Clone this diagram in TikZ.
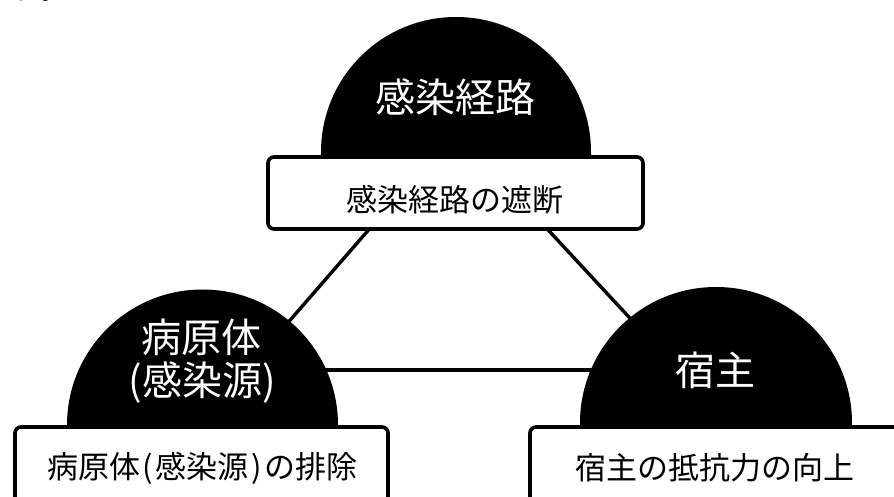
\documentclass[tikz,border=0pt]{standalone}
\usepackage{fontspec}
\newfontfamily\jp{Noto Sans CJK JP}
\newcommand{\hwp}[1]{\makebox[0.5em]{#1}}
\begin{document}
\begin{tikzpicture}[x=1pt,y=1pt,
  dome/.style={fill=black},
  labelbox/.style={draw=black, line width=3.6pt, rounded corners=6pt, fill=white},
  link/.style={draw=black, line width=3.4pt},
  domettl/.style={text=white, font=\jp\fontsize{40}{46}\selectfont, inner sep=0pt, align=center},
  boxtxt/.style={text=black, font=\jp\fontsize{31}{36}\selectfont, inner sep=0pt}]
\useasboundingbox (0,0) rectangle (894,497);
% anchor points
\coordinate (topC) at (456,345);
\coordinate (leftC) at (202.5,72);
\coordinate (rightC) at (716,74);
\coordinate (la) at (438,347);
\coordinate (lb) at (199,72);
\coordinate (ra) at (474,347);
\coordinate (rb) at (729,72);
\coordinate (ha) at (202,127);
\coordinate (hb) at (716,127);
% connectors
\draw[link] (la) -- (lb);
\draw[link] (ra) -- (rb);
\draw[link] (ha) -- (hb);
% domes
\fill[dome] ([xshift=-135pt]topC) arc[start angle=180,end angle=0,radius=135pt] -- ++(0,-20) -- ++(-270,0) -- cycle;
\fill[dome] ([xshift=-135.5pt]leftC) arc[start angle=180,end angle=0,radius=135.5pt] -- ++(0,-20) -- ++(-271,0) -- cycle;
\fill[dome] ([xshift=-136pt]rightC) arc[start angle=180,end angle=0,radius=136pt] -- ++(0,-20) -- ++(-272,0) -- cycle;
% boxes
\draw[labelbox] (268,340) rectangle (643,268);
\draw[labelbox] (15,70) rectangle (388,-20);
\draw[labelbox] (530,70) rectangle (910,-20);
% texts
\node[domettl] (t1) at (455,400) {感染経路};
\node[boxtxt] (b1) at (455,297) {感染経路の遮断};
\node[domettl] (t2a) at (201,160) {病原体};
\node[domettl] (t2b) at (202,114) {(感染源)};
\node[boxtxt] (b2) at (202,29) {病原体\hwp{(}感染源\hwp{)}の排除};
\node[domettl] (t3) at (715,127) {宿主};
\node[boxtxt] (b3) at (715,29) {宿主の抵抗力の向上};
\node[anchor=base west, inner sep=0pt, font=\jp\fontsize{32}{32}\selectfont] (frag) at (9,497.5) {う。};
\end{tikzpicture}
\end{document}
